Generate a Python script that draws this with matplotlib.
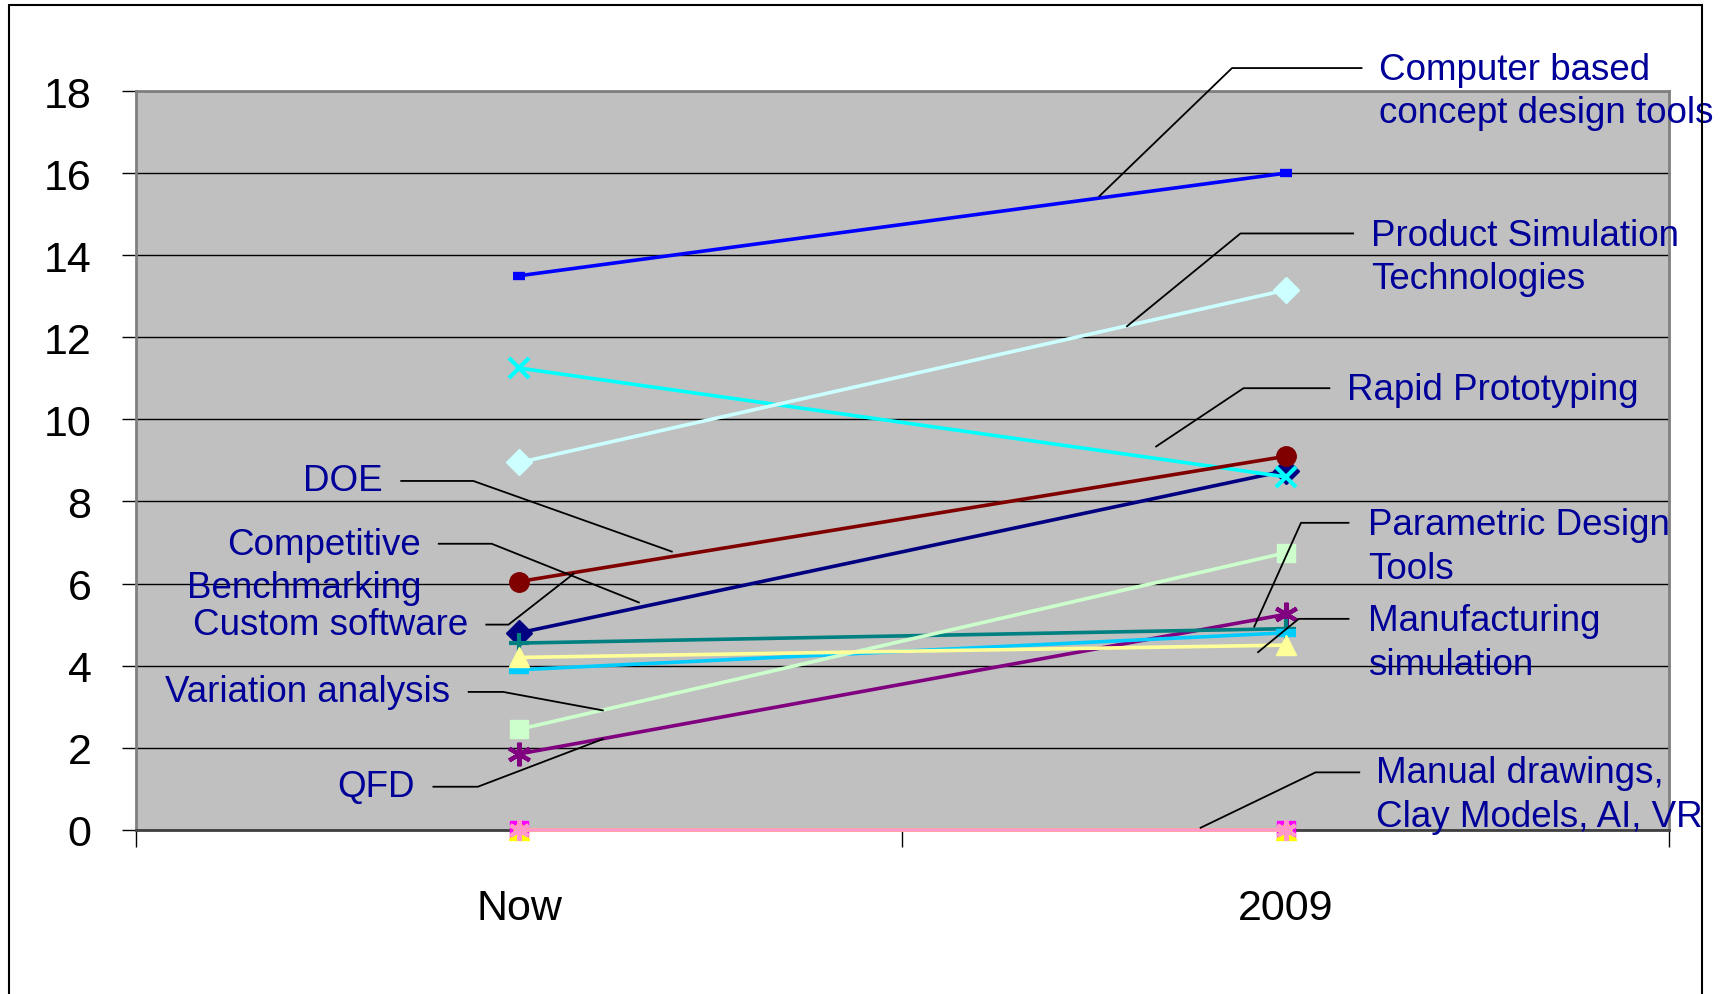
import matplotlib.pyplot as plt
from matplotlib.patches import Rectangle

plt.rcParams['font.family'] = ['Liberation Sans', 'DejaVu Sans']

periods = ['Now', '2009']

# one entry per tool: (Now, 2009)
navy_vals = [4.8, 8.75]
magenta_vals = [0.0, 0.0]
yellow_vals = [0.0, 0.0]
cyan_vals = [11.25, 8.6]
purple_vals = [1.85, 5.25]
darkred_vals = [6.05, 9.1]
teal_vals = [4.55, 4.9]
blue_vals = [13.5, 16.0]
skyblue_vals = [3.9, 4.8]
lightcyan_vals = [8.95, 13.15]
lightgreen_vals = [2.45, 6.75]
lightyellow_vals = [4.2, 4.5]
pink_vals = [0.0, 0.0]

right_labels = ['Computer based\nconcept design tools', 'Product Simulation\nTechnologies',
                'Rapid Prototyping', 'Parametric Design\nTools', 'Manufacturing\nsimulation',
                'Manual drawings,\nClay Models, AI, VR']
left_labels = ['DOE', 'Competitive\nBenchmarking', 'Custom software', 'Variation analysis', 'QFD']

# label anchor (x, y) and leader polyline for each callout
right_pos = [(1.122, 18.0), (1.111, 13.96), (1.080, 10.73), (1.107, 6.91), (1.107, 4.57), (1.118, 0.86)]
right_leaders = [
    ([1.099, 0.930, 0.757], [18.56, 18.56, 15.44]),
    ([1.088, 0.941, 0.793], [14.53, 14.53, 12.27]),
    ([1.057, 0.945, 0.831], [10.76, 10.76, 9.34]),
    ([1.082, 1.020, 0.959], [7.48, 7.48, 4.95]),
    ([1.082, 1.017, 0.964], [5.14, 5.14, 4.33]),
    ([1.096, 1.039, 0.889], [1.40, 1.40, 0.05]),
]
left_pos = [(-0.178, 8.50), (-0.128, 6.43), (-0.067, 5.00), (-0.090, 3.36), (-0.137, 1.05)]
left_leaders = [
    ([-0.154, -0.060, 0.199], [8.50, 8.50, 6.78]),
    ([-0.105, -0.036, 0.156], [6.97, 6.97, 5.54]),
    ([-0.043, -0.014, 0.071], [5.00, 5.00, 6.24]),
    ([-0.066, -0.021, 0.109], [3.36, 3.36, 2.91]),
    ([-0.112, -0.054, 0.109], [1.05, 1.05, 2.21]),
]

star6 = (6, 2, 0)  # asterisk: x with a vertical bar
series = [
    (navy_vals, '#000080', 'D', 13),
    (magenta_vals, '#FF00FF', 's', 13),
    (yellow_vals, '#FFFF00', '^', 14),
    (cyan_vals, '#00FFFF', 'x', 15),
    (purple_vals, '#800080', star6, 17),
    (darkred_vals, '#800000', 'o', 14),
    (teal_vals, '#008080', '+', 15),
    (blue_vals, '#0000FF', '_', 9),
    (skyblue_vals, '#00CCFF', '_', 14),
    (lightcyan_vals, '#CCFFFF', 'D', 13),
    (lightgreen_vals, '#CCFFCC', 's', 13),
    (lightyellow_vals, '#FFFF99', '^', 15),
    (pink_vals, '#FF99CC', star6, 15),
]

fig = plt.figure(figsize=(17.33, 9.95), dpi=100)
ax = fig.add_axes([0.0785, 0.165, 0.8845, 0.7425])
ax.set_facecolor('#C0C0C0')

x = list(range(len(periods)))
for vals, color, marker, ms in series:
    if marker == '_':
        mew = 6
    elif marker in ('x', '+', star6):
        mew = 3
    else:
        mew = 1
    ax.plot(x, vals, color=color, linewidth=2.6, marker=marker, markersize=ms,
            markeredgewidth=mew, markeredgecolor=color, markerfacecolor=color,
            clip_on=False, zorder=3)

ax.set_xlim(-0.5, 1.5)
ax.set_ylim(0, 18)
ax.set_yticks(range(0, 19, 2))
ax.yaxis.grid(True, color='black', linewidth=1)
ax.set_axisbelow(True)
ax.tick_params(axis='y', direction='out', length=10, width=1, labelsize=31, pad=22)

ax.set_xticks(x)
ax.set_xticklabels(periods)
ax.tick_params(axis='x', which='major', length=0, labelsize=31, pad=42)
ax.set_xticks([-0.5, 0.5, 1.5], minor=True)
ax.tick_params(axis='x', which='minor', direction='out', length=12, width=1)

for side in ['top', 'left', 'right']:
    ax.spines[side].set_color('#808080')
    ax.spines[side].set_linewidth(2)
ax.spines['bottom'].set_color('#404040')
ax.spines['bottom'].set_linewidth(2)

label_color = '#000099'
for text, (tx, ty), (lx, ly) in zip(right_labels, right_pos, right_leaders):
    ax.text(tx, ty, text, ha='left', va='center', fontsize=26.5, color=label_color,
            linespacing=1.32, clip_on=False, zorder=5)
    ax.plot(lx, ly, color='black', linewidth=1.3, clip_on=False, zorder=4)

for text, (tx, ty), (lx, ly) in zip(left_labels, left_pos, left_leaders):
    ax.text(tx, ty, text, ha='right', va='center', multialignment='right', fontsize=26.5,
            color=label_color, linespacing=1.32, clip_on=False, zorder=5)
    ax.plot(lx, ly, color='black', linewidth=1.3, clip_on=False, zorder=4)

# chart border
fig.patches.append(Rectangle((0.0052, -0.02), 0.977, 1.014, transform=fig.transFigure,
                             fill=False, edgecolor='black', linewidth=1.5))

fig.savefig('out.png', dpi=100)
